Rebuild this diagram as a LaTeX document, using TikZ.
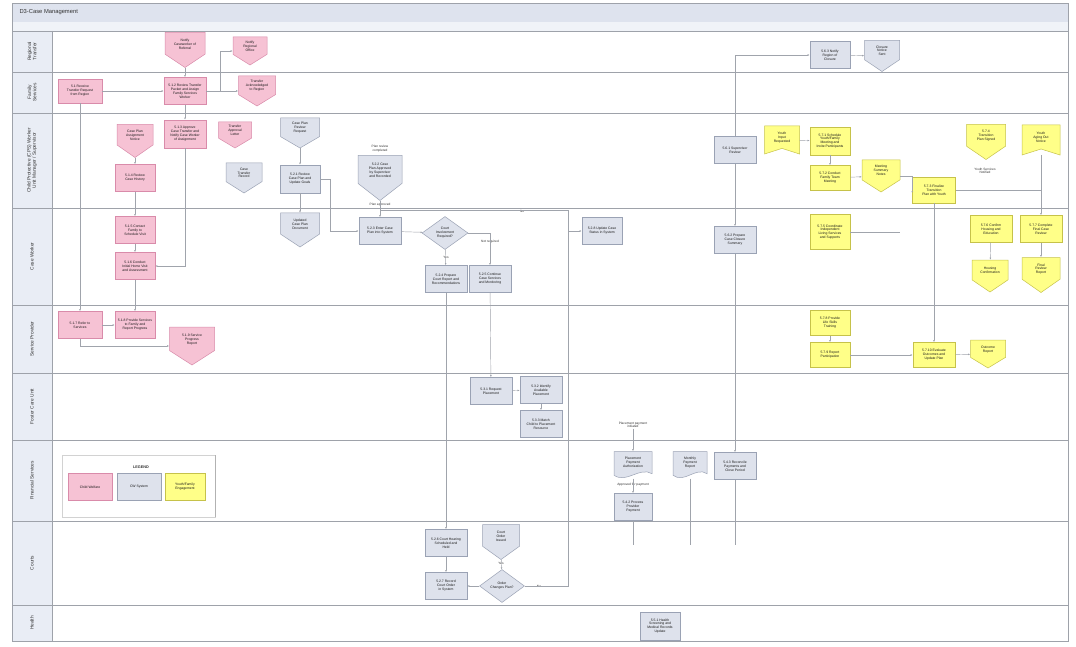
\documentclass[tikz,border=0pt]{standalone}
\usepackage{fontspec}
\setmainfont{Liberation Sans}
\usetikzlibrary{shapes.geometric,arrows.meta,calc}

\definecolor{pinkfill}{HTML}{F6C2D4}
\definecolor{pinkline}{HTML}{D98BAA}
\definecolor{grayfill}{HTML}{DEE2EC}
\definecolor{grayline}{HTML}{9AA2B4}
\definecolor{yelfill}{HTML}{FFFF88}
\definecolor{yelline}{HTML}{C6C24A}
\definecolor{lanefill}{HTML}{E9EDF5}
\definecolor{titlefill}{HTML}{DEE3EE}
\definecolor{laneline}{HTML}{9EA2AA}
\definecolor{wire}{HTML}{A0A4AC}

\tikzset{
  txt/.style={font=\fontsize{3.4}{3.9}\selectfont, align=center, text=black!90, inner sep=0.5pt},
  lbl/.style={font=\fontsize{3.2}{3.7}\selectfont, align=center, text=black!80, inner sep=0.5pt},
  box/.style={txt, minimum width=42pt, minimum height=27pt, inner sep=1pt},
  pinkf/.style={fill=pinkfill, draw=pinkline, line width=0.5pt},
  grayf/.style={fill=grayfill, draw=grayline, line width=0.5pt},
  yelf/.style={fill=yelfill, draw=yelline, line width=0.5pt},
  pinkbox/.style={box, pinkf},
  graybox/.style={box, grayf},
  yelbox/.style={box, yelf, minimum width=40pt},
  decide/.style={diamond, aspect=1.4, inner sep=0pt, grayf},
  wireline/.style={draw=wire, line width=0.45pt},
  arr/.style={wireline, -{Latex[length=2.2pt,width=1.8pt]}},
  lanename/.style={font=\fontsize{4.8}{5.4}\selectfont, align=center, text=black!80, rotate=90}
}

% off-page connector: box with pointed bottom; #1 name, #2 style, #3 x, #4 y, #5 w, #6 h, #7 text
\newcommand\offpg[7]{%
  \path[#2] ({#3-#5/2},{#4-#6/2}) -- ({#3+#5/2},{#4-#6/2}) -- ({#3+#5/2},{#4+0.12*#6})
    -- (#3,{#4+#6/2}) -- ({#3-#5/2},{#4+0.12*#6}) -- cycle;
  \node[minimum width=#5pt, minimum height=#6pt, inner sep=0pt] (#1) at (#3,#4) {};
  \node[txt] at (#3,{#4-0.17*#6}) {#7};
}
% document: box with wavy bottom edge
\newcommand\docshape[7]{%
  \path[#2] ({#3-#5/2},{#4-#6/2}) -- ({#3+#5/2},{#4-#6/2}) -- ({#3+#5/2},{#4+0.32*#6})
    .. controls ({#3+#5/6},{#4+0.05*#6}) and ({#3-#5/6},{#4+0.7*#6}) .. ({#3-#5/2},{#4+0.38*#6}) -- cycle;
  \node[minimum width=#5pt, minimum height=#6pt, inner sep=0pt] (#1) at (#3,#4) {};
  \node[txt] at (#3,{#4-0.1*#6}) {#7};
}
% banner: box with notched bottom edge
\newcommand\banner[7]{%
  \path[#2] ({#3-#5/2},{#4-#6/2}) -- ({#3+#5/2},{#4-#6/2}) -- ({#3+#5/2},{#4+#6/2})
    -- (#3,{#4+0.3*#6}) -- ({#3-#5/2},{#4+#6/2}) -- cycle;
  \node[minimum width=#5pt, minimum height=#6pt, inner sep=0pt] (#1) at (#3,#4) {};
  \node[txt] at (#3,{#4-0.08*#6}) {#7};
}

\begin{document}
\begin{tikzpicture}[x=1pt,y=-1pt]
\useasboundingbox (0,0) rectangle (1076,647);
\fill[white] (0,0) rectangle (1076,647);

% ---------- pool frame, title and lanes ----------
\fill[titlefill] (12,3) rectangle (1068,22);
\fill[lanefill!70] (12,22) rectangle (1068,31);
\fill[lanefill] (12,31) rectangle (52,641);
\node[font=\fontsize{5.8}{6.4}\selectfont, text=black!80, anchor=west] (title) at (16,12.5) {D3-Case Management};

\foreach \yy in {31,72,113,208,305,373,440,521,605}
  \draw[laneline, line width=0.9pt] (12,\yy) -- (1068,\yy);
\draw[laneline, line width=0.4pt] (52,31) -- (52,641);
\draw[laneline, line width=0.9pt] (12,3) rectangle (1068,641);

\node[lanename] (ln1) at (32,51.5) {Regional\\Transfer};
\node[lanename] (ln2) at (32,92.5) {Family\\Services};
\node[lanename] (ln3) at (32,160.5) {Child Protective (CPS) Worker\\Unit Manager / Supervisor};
\node[lanename] (ln4) at (32,256.5) {Case Worker};
\node[lanename] (ln5) at (32,339) {Service Provider};
\node[lanename] (ln6) at (32,406.5) {Foster Care Unit};
\node[lanename] (ln7) at (32,480.5) {Financial Services};
\node[lanename] (ln8) at (32,563) {Courts};
\node[lanename] (ln9) at (32,623) {Health};

% ---------- legend ----------
\node[draw=gray!35, fill=white, minimum width=153pt, minimum height=62pt, inner sep=0pt] (legend) at (138.5,486) {};
\draw[gray!60, line width=0.6pt] (215,455) -- (215,517);
\node[font=\bfseries\fontsize{3.8}{4.2}\selectfont, text=black!80] (legt) at (141,467) {LEGEND};
\node[pinkbox, minimum width=44pt] (lg1) at (90,487) {Child Welfare};
\node[graybox, minimum width=44pt] (lg2) at (139,487) {CW System};
\node[yelbox, minimum width=40pt] (lg3) at (185,487) {Youth/Family\\Engagement};

% ---------- child welfare steps (pink) ----------
\offpg{p1}{pinkf}{185}{50}{40}{35}{Notify\\Caseworker of\\Referral}
\offpg{p2}{pinkf}{250}{51}{34}{28}{Notify\\Regional\\Office}
\node[pinkbox, minimum width=44pt, minimum height=24pt] (p3) at (80,91) {5.1 Receive\\Transfer Request\\from Region};
\node[pinkbox] (p4) at (185,91) {5.1.2 Review Transfer\\Packet and Assign\\Family Services\\Worker};
\offpg{p5}{pinkf}{257}{91}{37}{30}{Transfer\\Acknowledged\\to Region}
\offpg{p6}{pinkf}{135}{141}{36}{33}{Case Plan\\Assignment\\Notice}
\node[pinkbox, minimum height=28pt] (p7) at (185,134) {5.1.3 Approve\\Case Transfer and\\Notify Case Worker\\of Assignment};
\offpg{p8}{pinkf}{235}{135}{33}{26}{Transfer\\Approval\\Letter}
\node[pinkbox, minimum width=40pt] (p9) at (135,178) {5.1.4 Review\\Case History};
\node[pinkbox, minimum width=40pt] (p10) at (135,230) {5.1.5 Contact\\Family to\\Schedule Visit};
\node[pinkbox, minimum width=40pt] (p11) at (135,266) {5.1.6 Conduct\\Initial Home Visit\\and Assessment};
\node[pinkbox, minimum width=44pt] (p12) at (80,325) {5.1.7 Refer to\\Services};
\node[pinkbox, minimum width=40pt] (p13) at (135,325) {5.1.8 Provide Services\\to Family and\\Report Progress};
\offpg{p14}{pinkf}{192}{346}{45}{38}{5.1.9 Service\\Progress\\Report}

% ---------- system steps (gray) ----------
\offpg{g1}{grayf}{244}{178}{36}{30}{Case\\Transfer\\Record}
\offpg{g2}{grayf}{300}{133}{39}{30}{Case Plan\\Review\\Request}
\node[graybox, minimum width=40pt, minimum height=28pt] (g3) at (300,179) {5.2.1 Review\\Case Plan and\\Update Goals};
\offpg{g4}{grayf}{300}{230}{39}{34}{Updated\\Case Plan\\Document}
\offpg{g5}{grayf}{380}{178}{44}{45}{5.2.2 Case\\Plan Approved\\by Supervisor\\and Recorded}
\node[graybox] (g6) at (380,231) {5.2.3 Enter Case\\Plan into System};
\node[decide, minimum width=46pt, minimum height=33pt] (g7) at (445,233) {};
\node[txt] at (445,233) {Court\\Involvement\\Required?};
\node[graybox] (g8) at (446,279) {5.2.4 Prepare\\Court Report and\\Recommendations};
\node[graybox] (g9) at (490,279) {5.2.5 Continue\\Case Services\\and Monitoring};
\node[graybox, minimum width=40pt] (g10) at (602,231) {5.2.8 Update Case\\Status in System};
\node[graybox] (g11) at (491,391) {5.3.1 Request\\Placement};
\node[graybox] (g12) at (541,390) {5.3.2 Identify\\Available\\Placement};
\node[graybox] (g13) at (541,424) {5.3.3 Match\\Child to Placement\\Resource};
\docshape{g14}{grayf}{633}{465}{38}{27}{Placement\\Payment\\Authorization}
\node[graybox, minimum width=38pt] (g15) at (633,507) {5.4.2 Process\\Provider\\Payment};
\docshape{g16}{grayf}{690}{465}{34}{27}{Monthly\\Payment\\Report}
\node[graybox] (g17) at (735,466) {5.4.3 Reconcile\\Payments and\\Close Period};
\node[graybox] (g18) at (446,543) {5.2.6 Court Hearing\\Scheduled and\\Held};
\node[graybox] (g19) at (446,586) {5.2.7 Record\\Court Order\\in System};
\offpg{g20}{grayf}{501}{542}{37}{35}{Court\\Order\\Issued}
\node[decide, minimum width=45pt, minimum height=33pt] (g21) at (502,586) {};
\node[txt] at (502,586) {Order\\Changes Plan?};
\node[graybox, minimum width=40pt, minimum height=28pt] (g22) at (660,626) {5.5.1 Health\\Screening and\\Medical Records\\Update};
\node[graybox] (g23) at (735,150) {5.6.1 Supervisor\\Review};
\node[graybox] (g24) at (735,240) {5.6.2 Prepare\\Case Closure\\Summary};
\node[graybox, minimum width=40pt] (g25) at (830,55) {5.6.3 Notify\\Region of\\Closure};
\offpg{g26}{grayf}{882}{56}{35}{31}{Closure\\Notice\\Sent}

% ---------- youth and family engagement (yellow) ----------
\banner{y1}{yelf}{782}{140}{35}{28}{Youth\\Input\\Requested}
\node[yelbox, minimum height=28pt] (y2) at (830,141) {5.7.1 Schedule\\Youth/Family\\Meeting and\\Invite Participants};
\node[yelbox, minimum height=25pt] (y3) at (830,178) {5.7.2 Conduct\\Family Team\\Meeting};
\offpg{y4}{yelf}{881}{176}{38}{32}{Meeting\\Summary\\Notes}
\node[yelbox, minimum width=43pt, minimum height=26pt] (y5) at (934,190) {5.7.3 Finalize\\Transition\\Plan with Youth};
\offpg{y6}{yelf}{986}{142}{39}{35}{5.7.4\\Transition\\Plan Signed}
\banner{y7}{yelf}{1041}{140}{38}{30}{Youth\\Aging Out\\Notice}
\node[yelbox, minimum height=35pt] (y8) at (830,232) {5.7.5 Coordinate\\Independent\\Living Services\\and Supports};
\node[yelbox, minimum width=42pt] (y9) at (991,229) {5.7.6 Confirm\\Housing and\\Education};
\node[yelbox, minimum width=42pt] (y10) at (1041,229) {5.7.7 Complete\\Final Case\\Review};
\offpg{y11}{yelf}{990}{276}{36}{32}{Housing\\Confirmation}
\offpg{y12}{yelf}{1041}{275}{38}{35}{Final\\Review\\Report}
\node[yelbox, minimum height=25pt] (y13) at (830,323) {5.7.8 Provide\\Life Skills\\Training};
\node[yelbox, minimum height=25pt] (y14) at (830,355) {5.7.9 Report\\Participation};
\node[yelbox, minimum width=42pt, minimum height=25pt] (y15) at (934,355) {5.7.10 Evaluate\\Outcomes and\\Update Plan};
\offpg{y16}{yelf}{988}{354}{35}{28}{Outcome\\Report}

% ---------- free labels ----------
\node[lbl] (t1) at (380,149) {Plan review\\completed};
\node[lbl] (t2) at (380,205) {Plan approved};
\node[lbl] (t3) at (446,257.5) {Yes};
\node[lbl] (t4) at (490,242) {Not required};
\node[lbl] (t5) at (522,211) {No};
\node[lbl] (t6) at (501,563) {Yes};
\node[lbl] (t7) at (539,586) {No};
\node[lbl] (t8) at (633,425) {Placement payment\\initiated};
\node[lbl] (t9) at (633,485) {Approved for payment};
\node[lbl] (t10) at (985,171) {Youth Services\\Notified};

% ---------- connectors ----------
\coordinate (j1) at (380,210);
\coordinate (j2) at (568,210);
\coordinate (j3) at (330,179);
\coordinate (j4) at (568,586);
\coordinate (j5) at (1041,190);
\coordinate (j6) at (900,232);
\coordinate (e1) at (633,545);
\coordinate (e2) at (690,545);
\coordinate (e3) at (735,545);

\draw[arr] (p3) -- (p4);
\draw[arr] (p1) -- (p4);
\draw[arr] (p4.east) -- ++(14,0) |- (p2.west);
\draw[arr] (p4) -- (p5);
\draw[arr] (p4) -- (p7);
\draw[arr] (p7.south) |- (p11.east);
\draw[arr] (p6) -- (p9);
\draw[arr] (p9) -- (p10);
\draw[arr] (p10) -- (p11);
\draw[arr] (p11) -- (p13);
\draw[arr] (p3) -- (p12);
\draw[arr] (p12) -- (p13);
\draw[arr] (p12.south) |- (p14.west);

\draw[arr] (g2) -- (g3);
\draw[arr] (g3) -- (g4);
\draw[wireline] (g3.east) -- (j3);
\draw[arr] (j3) |- (g6.west);
\draw[arr] (g5) -- (g6);
\draw[wireline] (j1) -- (j2);
\draw[arr] (g6) -- (g7);
\draw[arr] (g7) -- (g8);
\draw[arr] (g7.east) -| (g9.north);
\draw[arr] (g9) -- (g11);
\draw[arr] (g11) -- (g12);
\draw[arr] (g12) -- (g13);
\draw[arr] (g8) -- (g18);
\draw[arr] (g18) -- (g19);
\draw[arr] (g20) -- (g21);
\draw[arr] (g21) -- (g19);
\draw[wireline] (g21.east) -- (j4) -- (j2);
\draw[arr] (j4) |- (g10.west);
\draw[arr] (t8) -- (g14);
\draw[arr] (g14) -- (g15);
\draw[wireline] (g15) -- (e1);
\draw[wireline] (g16) -- (e2);
\draw[arr] (g23.north) |- (g25.west);
\draw[arr] (g23) -- (g24);
\draw[arr] (g24) -- (g17);
\draw[wireline] (g17) -- (e3);
\draw[arr] (g25) -- (g26);

\draw[arr] (y1) -- (y2);
\draw[arr] (y2) -- (y3);
\draw[arr] (y3) -- (y4);
\draw[arr] (y4.east) -- (y5.west |- y4.east) |- (y5.west);
\draw[wireline] (y5.east) -- (j5);
\draw[arr] (y7) -- (y10);
\draw[arr] (y9) -- (y11);
\draw[arr] (y10) -- (y12);
\draw[arr] (y5) -- (y15);
\draw[wireline] (y8.east) -- (j6);
\draw[arr] (y13) -- (y14);
\draw[arr] (y14) -- (y15);
\draw[arr] (y15) -- (y16);
\end{tikzpicture}
\end{document}
